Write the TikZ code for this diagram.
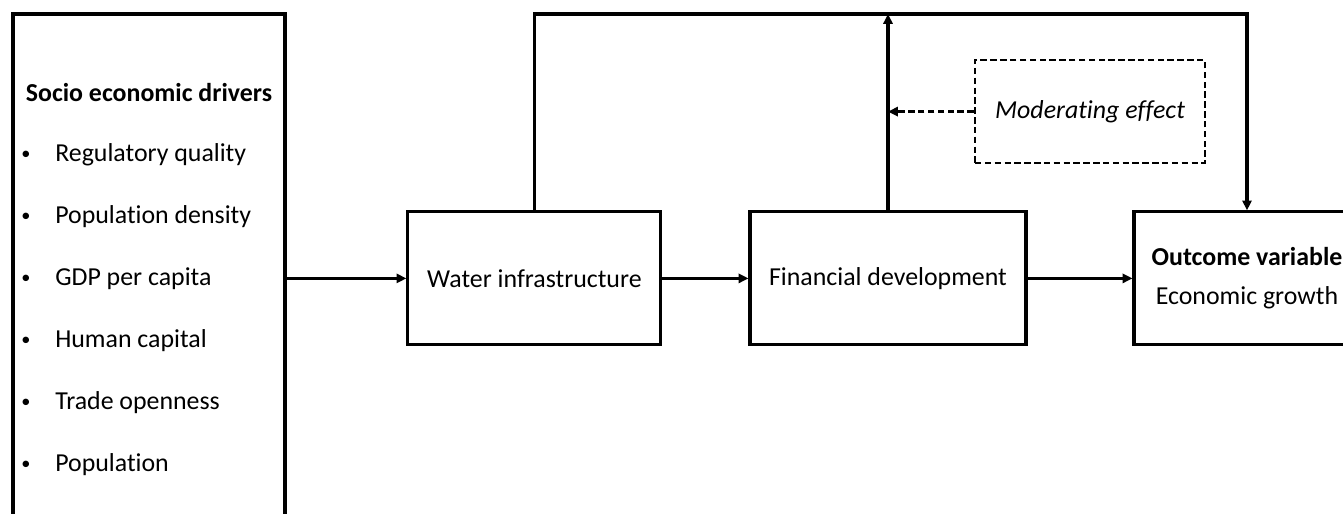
\documentclass[tikz,border=0pt]{standalone}
\usepackage{fontspec}
\setmainfont[Ligatures=NoCommon]{Carlito}
\usetikzlibrary{arrows.meta, calc}
\tikzset{
  box/.style={
    rectangle, draw=black, line width=2.2pt,
    align=center, inner sep=0pt,
    font=\fontsize{18.4}{28}\selectfont
  },
  modbox/.style={
    box, dash pattern=on 4.6pt off 2.4pt, line width=1.9pt,
    font=\fontsize{18.4}{28}\selectfont\itshape
  },
  txt/.style  = {font=\fontsize{18.4}{22}\selectfont, inner sep=0pt},
  dot/.style  = {font=\fontsize{13}{15}\selectfont, inner sep=0pt},
  arr/.style  = {-{Triangle[length=7pt, width=6.5pt]}, line width=2.2pt},
  darr/.style = {arr, dash pattern=on 4.6pt off 2.4pt, line width=1.9pt},
}
\begin{document}
\begin{tikzpicture}

\useasboundingbox (0,0) rectangle (33.575,12.85);
\clip (0,0) rectangle (33.575,12.85);

%% ── Boxes ───────────────────────────────────────────────────────────────────
\node[box, minimum width=6.8cm, minimum height=13.25cm] (drivers) at (3.725, 5.875) {};
\node[box, minimum width=6.325cm, minimum height=3.325cm] (water) at (13.36, 5.89) {Water infrastructure};
\node[box, minimum width=6.9cm, minimum height=3.325cm] (fin) at (22.2, 5.89) {Financial development};
\node[box, minimum width=5.65cm, minimum height=3.325cm] (outcome) at (31.175, 5.89)
  {\textbf{Outcome variable}\\Economic growth};
\node[modbox, minimum width=5.75cm, minimum height=2.575cm] (mod) at (27.25, 10.06) {Moderating effect};

%% ── Drivers list ────────────────────────────────────────────────────────────
\node[txt, font=\fontsize{18.4}{22}\selectfont\bfseries] (head) at (3.725, 10.525) {Socio economic drivers};
\foreach \name [count=\i] in {Regulatory quality, Population density, GDP per capita,
                              Human capital, Trade openness, Population}{
  \node[dot] (b\i) at (0.65, {8.975 - 1.55*(\i-1)}) {\textbullet};
  \node[txt, anchor=west] (d\i) at (1.375, {8.975 - 1.55*(\i-1)}) {\name};
}

%% ── Main chain ──────────────────────────────────────────────────────────────
\draw[arr] (drivers.east |- water.west) -- (water.west);
\draw[arr] (water.east) -- (fin.west);
\draw[arr] (fin.east) -- (outcome.west);

%% ── Top path: water → outcome ───────────────────────────────────────────────
\coordinate (top) at (0, 12.5);
\draw[arr] (water.north) -- (water.north |- top) -- (outcome.north |- top) -- (outcome.north);

%% ── Financial development → top line ────────────────────────────────────────
\draw[arr] (fin.north) -- (fin.north |- top);

%% ── Moderating effect ───────────────────────────────────────────────────────
\draw[darr] (mod.west) -- (fin.north |- mod.west);

\end{tikzpicture}
\end{document}
